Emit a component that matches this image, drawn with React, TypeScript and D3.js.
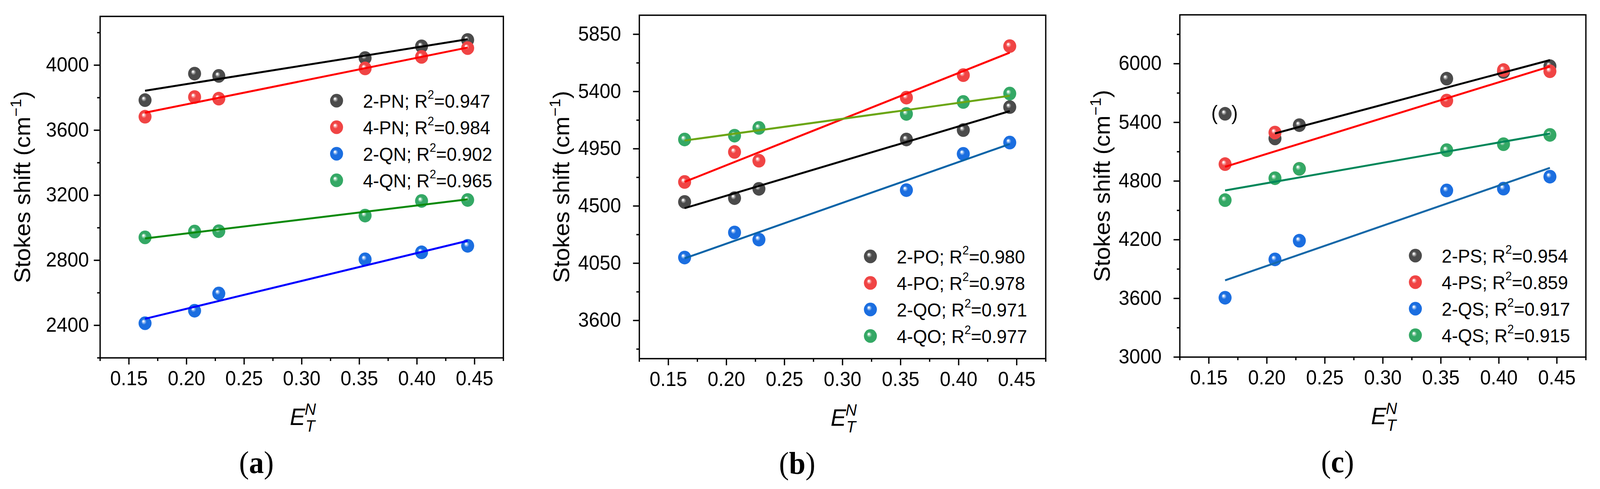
import React from 'react';
import * as d3 from 'd3';

// ---------- data ----------
const ETN = [0.164, 0.207, 0.228, 0.355, 0.404, 0.444];
const X_TICKS = [0.15, 0.2, 0.25, 0.3, 0.35, 0.4, 0.45];
const X_MINOR = [0.125, 0.175, 0.225, 0.275, 0.325, 0.375, 0.425, 0.475];
const X_DOMAIN = [0.125, 0.475];

// (a)
const PN2 = [3785, 3948, 3934, 4044, 4116, 4155];
const PN4 = [3683, 3804, 3794, 3980, 4051, 4105];
const QN2 = [2413, 2490, 2596, 2806, 2849, 2889];
const QN4 = [2941, 2977, 2979, 3075, 3165, 3171];
const NAMES_A = ['2-PN', '4-PN', '2-QN', '4-QN'];
const R2_A = ['0.947', '0.984', '0.902', '0.965'];
const Y_DOMAIN_A = [2200, 4300];
const Y_TICKS_A = [2400, 2800, 3200, 3600, 4000];
const Y_MINOR_A = [2200, 2600, 3000, 3400, 3800, 4200];

// (b)
const PO2 = [4532, 4562, 4635, 5023, 5097, 5278];
const PO4 = [4689, 4925, 4856, 5352, 5529, 5757];
const QO2 = [4095, 4292, 4236, 4625, 4910, 4999];
const QO4 = [5023, 5053, 5114, 5224, 5318, 5384];
const NAMES_B = ['2-PO', '4-PO', '2-QO', '4-QO'];
const R2_B = ['0.980', '0.978', '0.971', '0.977'];
const Y_DOMAIN_B = [3300, 6000];
const Y_TICKS_B = [3600, 4050, 4500, 4950, 5400, 5850];
const Y_MINOR_B = [3375, 3825, 4275, 4725, 5175, 5625];

// (c)
const PS2 = [5488, 5236, 5372, 5847, 5915, 5975];
const PS2_EXCLUDED = [0]; // point shown in parentheses, not fitted
const PS4 = [4973, 5296, 4925, 5623, 5935, 5923];
const QS2 = [3607, 3999, 4190, 4704, 4723, 4845];
const QS4 = [4605, 4829, 4925, 5116, 5177, 5272];
const NAMES_C = ['2-PS', '4-PS', '2-QS', '4-QS'];
const R2_C = ['0.954', '0.859', '0.917', '0.915'];
const Y_DOMAIN_C = [3000, 6500];
const Y_TICKS_C = [3000, 3600, 4200, 4800, 5400, 6000];
const Y_MINOR_C = [3300, 3900, 4500, 5100, 5700, 6300];

const PANEL_LETTERS = ['a', 'b', 'c'];

// ---------- styles / layout ----------
const W = 4307;
const H = 1253;
const MARKER_COLORS = ['#4b4b4b', '#f04444', '#1b6ee0', '#34a865'];
const LINE_COLORS = [
  ['#000000', '#ff0000', '#0000ff', '#0b8a0b'],
  ['#000000', '#ff0000', '#0a64a8', '#6ba614'],
  ['#000000', '#ff0000', '#1668a8', '#00875a'],
];
const LAYOUT = [
  { left: 269.5, right: 1355, top: 42, bottom: 917, yLabelGap: 30, legendX: 906, legendY: 258 },
  { left: 1721, right: 2815, top: 39, bottom: 919, yLabelGap: 49, legendX: 2343, legendY: 657 },
  { left: 3176, right: 4269, top: 38, bottom: 915, yLabelGap: 49, legendX: 3810, legendY: 655 },
];
const SANS = '"Liberation Sans", Arial, Helvetica, sans-serif';
const SERIF = '"Liberation Serif", "Times New Roman", serif';
const R = 17.5;
const AXIS_W = 3.5;

type PanelData = {
  series: number[][];
  names: string[];
  r2: string[];
  yDomain: number[];
  yTicks: number[];
  yMinor: number[];
  excluded: number[][];
};

const PANELS: PanelData[] = [
  { series: [PN2, PN4, QN2, QN4], names: NAMES_A, r2: R2_A, yDomain: Y_DOMAIN_A, yTicks: Y_TICKS_A, yMinor: Y_MINOR_A, excluded: [[], [], [], []] },
  { series: [PO2, PO4, QO2, QO4], names: NAMES_B, r2: R2_B, yDomain: Y_DOMAIN_B, yTicks: Y_TICKS_B, yMinor: Y_MINOR_B, excluded: [[], [], [], []] },
  { series: [PS2, PS4, QS2, QS4], names: NAMES_C, r2: R2_C, yDomain: Y_DOMAIN_C, yTicks: Y_TICKS_C, yMinor: Y_MINOR_C, excluded: [PS2_EXCLUDED, [], [], []] },
];

function linearFit(xs: number[], ys: number[]) {
  const mx = d3.mean(xs) as number;
  const my = d3.mean(ys) as number;
  let sxy = 0, sxx = 0;
  xs.forEach((x, i) => { sxy += (x - mx) * (ys[i] - my); sxx += (x - mx) * (x - mx); });
  const slope = sxy / sxx;
  return { slope, intercept: my - slope * mx, x0: d3.min(xs) as number, x1: d3.max(xs) as number };
}

function Gradients() {
  return (
    <defs>
      {MARKER_COLORS.map((c, i) => {
        const mix = d3.interpolateRgb(c, '#ffffff');
        return (
          <radialGradient key={i} id={`sph${i}`} cx="0.5" cy="0.5" r="0.5" fx="0.36" fy="0.34">
            <stop offset="0" stopColor="#ffffff" />
            <stop offset="0.09" stopColor="#ffffff" />
            <stop offset="0.18" stopColor={mix(0.6)} />
            <stop offset="0.3" stopColor={mix(0.3)} />
            <stop offset="0.4" stopColor={c} />
            <stop offset="1" stopColor={c} />
          </radialGradient>
        );
      })}
    </defs>
  );
}

function Panel({ p, idx }: { p: PanelData; idx: number }) {
  const L = LAYOUT[idx];
  const x = d3.scaleLinear().domain(X_DOMAIN).range([L.left, L.right]);
  const y = d3.scaleLinear().domain(p.yDomain).range([L.bottom, L.top]);
  const cx = (L.left + L.right) / 2;
  const cy = (L.top + L.bottom) / 2;
  const line = d3.line<[number, number]>().x(d => x(d[0])).y(d => y(d[1]));

  const fits = p.series.map((s, si) => {
    const xs: number[] = [], ys: number[] = [];
    s.forEach((v, i) => {
      if (v != null && !p.excluded[si].includes(i)) { xs.push(ETN[i]); ys.push(v); }
    });
    return linearFit(xs, ys);
  });

  return (
    <g>
      {/* markers */}
      {p.series.map((s, si) => (
        <g key={`m${si}`}>
          {s.map((v, i) => v == null ? null : (
            <circle key={i} cx={x(ETN[i])} cy={y(v)} r={R} fill={`url(#sph${si})`} />
          ))}
        </g>
      ))}
      {/* excluded-point parentheses */}
      {p.series.map((s, si) => p.excluded[si].map(i => (
        <g key={`ex${si}-${i}`} fontFamily={SANS} fontSize={52} fill="#000">
          <text x={x(ETN[i]) - 20} y={y(s[i]) + 15} textAnchor="end">(</text>
          <text x={x(ETN[i]) + 17} y={y(s[i]) + 15} textAnchor="start">)</text>
        </g>
      )))}
      {/* fit lines */}
      {fits.map((f, si) => (
        <path key={`l${si}`} d={line([[f.x0, f.intercept + f.slope * f.x0], [f.x1, f.intercept + f.slope * f.x1]]) as string}
          stroke={LINE_COLORS[idx][si]} strokeWidth={5} fill="none" />
      ))}
      {/* frame */}
      <rect x={L.left} y={L.top} width={L.right - L.left} height={L.bottom - L.top} fill="none" stroke="#000" strokeWidth={AXIS_W} />
      {/* y ticks */}
      {p.yTicks.map(t => (
        <g key={`yt${t}`}>
          <line x1={L.left - 17} x2={L.left} y1={y(t)} y2={y(t)} stroke="#000" strokeWidth={AXIS_W} />
          <text x={L.left - L.yLabelGap} y={y(t) + 16} textAnchor="end" fontFamily={SANS} fontSize={52}>{t}</text>
        </g>
      ))}
      {p.yMinor.map(t => (
        <line key={`ym${t}`} x1={L.left - 8} x2={L.left} y1={y(t)} y2={y(t)} stroke="#000" strokeWidth={AXIS_W} />
      ))}
      {/* x ticks */}
      {X_TICKS.map(t => (
        <g key={`xt${t}`}>
          <line x1={x(t)} x2={x(t)} y1={L.bottom} y2={L.bottom + 17} stroke="#000" strokeWidth={AXIS_W} />
          <text x={x(t)} y={L.bottom + 70} textAnchor="middle" fontFamily={SANS} fontSize={52}>{t.toFixed(2)}</text>
        </g>
      ))}
      {X_MINOR.map(t => (
        <line key={`xm${t}`} x1={x(t)} x2={x(t)} y1={L.bottom} y2={L.bottom + 8} stroke="#000" strokeWidth={AXIS_W} />
      ))}
      {/* y title */}
      <text transform={`translate(${L.left - 189},${cy}) rotate(-90)`} textAnchor="middle" fontFamily={SANS} fontSize={60}>
        Stokes shift (cm<tspan fontSize={40} dy={-24}>−1</tspan><tspan dy={24}>)</tspan>
      </text>
      {/* x title */}
      <g fontFamily={SANS} fontStyle="italic">
        <text x={cx - 32} y={L.bottom + 172} fontSize={62}>E</text>
        <text x={cx + 8} y={L.bottom + 146} fontSize={42}>N</text>
        <text x={cx + 10} y={L.bottom + 189} fontSize={42}>T</text>
      </g>
      {/* panel letter */}
      <text x={cx - 122} y={L.bottom + 295} textAnchor="middle" fontFamily={SERIF} fontSize={80}>
        (<tspan fontWeight="bold">{PANEL_LETTERS[idx]}</tspan>)
      </text>
      {/* legend */}
      {p.names.map((n, si) => {
        const ly = L.legendY + si * 68;
        return (
          <g key={`lg${si}`}>
            <circle cx={L.legendX} cy={ly} r={R} fill={`url(#sph${si})`} />
            <text x={L.legendX + 71} y={ly + 18} fontFamily={SANS} fontSize={49}>
              {n}; R<tspan fontSize={31} dy={-23}>2</tspan><tspan dy={23}>={p.r2[si]}</tspan>
            </text>
          </g>
        );
      })}
    </g>
  );
}

export default function App() {
  return (
    <div style={{ position: 'fixed', left: 0, top: 0, right: 0, bottom: 0, overflow: 'hidden', background: '#fff' }}>
      <svg width="100%" height="100%" viewBox={`0 0 ${W} ${H}`} preserveAspectRatio="none"
        style={{ display: 'block' }}>
        <rect x={0} y={0} width={W} height={H} fill="#fff" />
        <Gradients />
        {PANELS.map((p, i) => <Panel key={i} p={p} idx={i} />)}
      </svg>
    </div>
  );
}
